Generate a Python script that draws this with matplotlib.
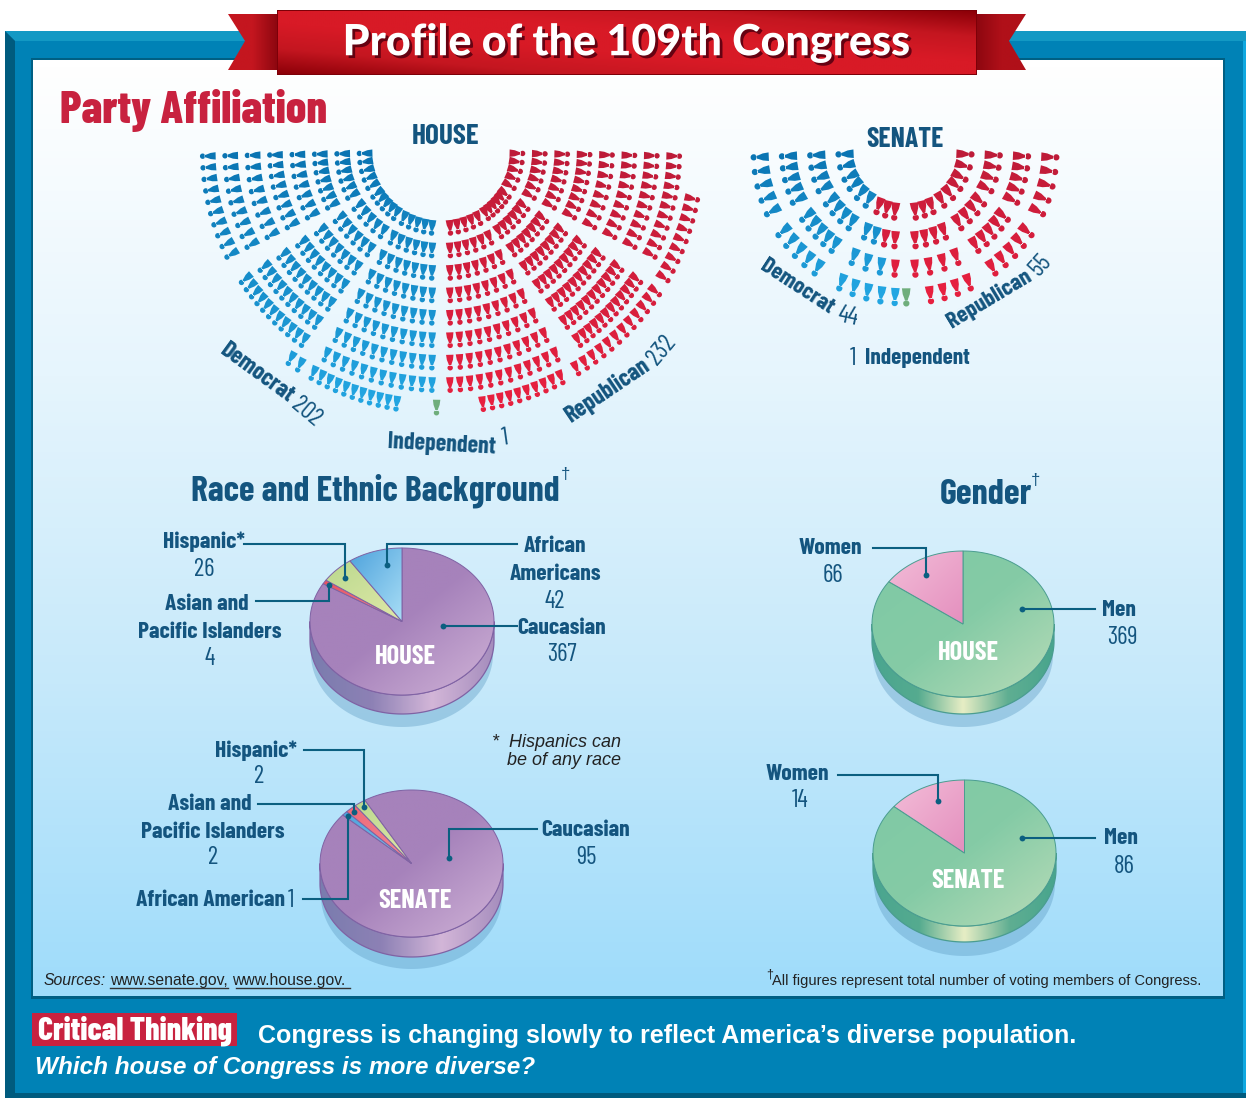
import numpy as np
import matplotlib
matplotlib.use("Agg")
import matplotlib.pyplot as plt
import matplotlib.patheffects as pe
from matplotlib.collections import PolyCollection
from matplotlib.colors import LinearSegmentedColormap, to_rgb
from matplotlib.patches import Polygon, Rectangle

W, H = 1246, 1098

# seats per row, inner row first, one list for each block of the chamber
house_dem_lower = [5, 6, 7, 8, 9, 10, 11, 12]
house_dem_mid = [5, 5, 6, 7, 8, 9, 10, 11]
house_dem_upper = [5, 6, 7, 7, 8, 8, 9, 10]
house_dem_back = [6, 5, 2]
house_rep_lower = [5, 6, 7, 8, 9, 10, 11, 12]
house_rep_mid = [6, 6, 7, 8, 9, 10, 11, 12]
house_rep_upper = [5, 6, 7, 8, 8, 9, 10, 11]
house_rep_back = [10, 12, 9]
house_ind = 1

senate_upper = [3, 4, 5, 5]
senate_mid = [3, 4, 5, 5]
senate_lower_left_dem = [0, 2, 3, 5]
senate_lower_left_rep = [3, 2, 1, 0]
senate_lower_right_rep = [3, 4, 4, 4]
senate_ind = 1
senate_dem = 44
senate_rep = 55

# Caucasian, Asian, Hispanic, African American
house_race = [367, 4, 26, 42]
senate_race = [95, 2, 2, 1]
# men, women
house_gender = [369, 66]
senate_gender = [86, 14]

NAVY = "#14557f"
LINE = "#0b5f80"
COND = ["Barlow Condensed", "Roboto"]
SANS = ["Liberation Sans", "DejaVu Sans"]

fig = plt.figure(figsize=(W / 100, H / 100), dpi=100, facecolor="white")
ax = fig.add_axes([0, 0, 1, 1])
ax.axis("off")


def grad(extent, colors, mode, clip=None, z=2):
    x0, x1, y0, y1 = extent
    t = np.linspace(0, 1, 128)
    if mode == "h":
        arr = t[None, :]
    elif mode == "v":
        arr = t[:, None]
    elif mode == "a":
        arr = (t[None, :] + t[::-1, None]) / 2
    else:
        arr = (t[None, :] + t[:, None]) / 2
    cmap = LinearSegmentedColormap.from_list("g", colors)
    im = ax.imshow(arr, cmap=cmap, vmin=0, vmax=1, extent=(x0, x1, y1, y0),
                   aspect="auto", interpolation="bilinear", zorder=z)
    if clip is not None:
        im.set_clip_path(Polygon(clip, closed=True, transform=ax.transData))
    return im


def rect(x0, y0, x1, y1, color, z=1):
    ax.add_patch(Rectangle((x0, y0), x1 - x0, y1 - y0, fc=color, ec="none", zorder=z))


def poly(pts, color, z=1):
    ax.add_patch(Polygon(pts, closed=True, fc=color, ec="none", zorder=z))


def label(x, y, s, size=17, weight=700, color=NAVY, ha="center", rot=0, family=COND, style="normal"):
    return ax.text(x, y + 1.5, s, fontsize=size, fontweight=weight, color=color, ha=ha, va="center",
                   rotation=rot, family=family, style=style, zorder=20, rotation_mode="anchor")


def num(x, y, val, size=18, ha="center", rot=0):
    return label(x, y, str(val), size=size, weight=400, ha=ha, rot=rot)


def note(x, y, s, size=11.3, style="normal"):
    return label(x, y, s, size=size, weight=400, ha="left", family=SANS, style=style, color="#222222")


def leader(*pts):
    xs, ys = zip(*pts)
    ax.plot(xs, ys, color=LINE, lw=1.5, solid_joinstyle="miter", zorder=15)
    ax.plot(xs[-1], ys[-1], "o", color=LINE, ms=4.2, mec="none", zorder=15)


def seat_shape(x, y, ang, scale):
    # ang counted from straight down, body wide at the inner end, head outward
    u = np.array([np.sin(ang), np.cos(ang)])
    v = np.array([np.cos(ang), -np.sin(ang)])
    body = [(-7.8, -3.9), (-7.8, 3.9), (-2.4, 3.2), (1.6, 1.7), (3.4, 1.2)]
    t = np.linspace(-2.3, 2.3, 10)
    head = [(5.9 + 2.9 * np.cos(a), 2.9 * np.sin(a)) for a in t]
    back = [(3.4, -1.2), (1.6, -1.7), (-2.4, -3.2)]
    pts = body + head + back
    return [(x + scale * (a * u[0] + b * v[0]), y + scale * (a * u[1] + b * v[1])) for a, b in pts]


def party_color(kind, y, y0, y1):
    stops = {"D": ("#0a74b2", "#22a6e2"), "R": ("#bd1b38", "#e8203f"), "I": ("#5fa56e", "#6fae7c")}[kind]
    t = np.clip((y - y0) / (y1 - y0), 0, 1)
    a, b = np.array(to_rgb(stops[0])), np.array(to_rgb(stops[1]))
    return a + (b - a) * t


def draw_seats(seats, cx, cy, scale):
    verts, cols = [], []
    ys = [cy + r * np.cos(np.radians(a)) for _, r, a, _ in seats]
    y0, y1 = min(ys), max(ys)
    for side, r, a, kind in seats:
        ang = np.radians(a) * side
        x = cx + r * np.sin(ang)
        y = cy + r * np.cos(ang)
        # figures lean a bit less than the radius they sit on
        tilt = ang - side * np.radians(8) * np.sin(2 * np.radians(a))
        verts.append(seat_shape(x, y, tilt, scale))
        cols.append(party_color(kind, y, y0, y1))
    ax.add_collection(PolyCollection(verts, facecolors=cols, edgecolors="none", zorder=6))


def pie3d(cx, cy, rx, ry, depth, values, start, tops, side, shadow_dy, edge):
    t = np.linspace(0, np.pi, 120)
    # shadow, then the rim, then the slices on top
    a = np.linspace(0, 2 * np.pi, 160)
    ax.add_patch(Polygon(np.c_[cx + rx * 0.99 * np.cos(a), cy + shadow_dy + ry * np.sin(a)],
                         fc="#5f9cc4", alpha=0.4, ec="none", zorder=3))
    rim = np.r_[np.c_[cx + rx * np.cos(t), cy + ry * np.sin(t)],
                np.c_[cx + rx * np.cos(t[::-1]), cy + depth + ry * np.sin(t[::-1])]]
    grad((cx - rx, cx + rx, cy, cy + ry + depth), side[::-1], "h", rim, z=4)
    ax.add_patch(Polygon(rim, closed=True, fc="none", ec=edge, lw=0.9, zorder=4))
    total = sum(values)
    pos = start
    for val, cols in zip(values, tops):
        sweep = 360 * val / total
        th = np.radians(np.linspace(pos, pos + sweep, max(int(sweep), 2) + 1))
        pts = np.r_[[[cx, cy]], np.c_[cx + rx * np.sin(th), cy - ry * np.cos(th)]]
        grad((pts[:, 0].min(), pts[:, 0].max(), pts[:, 1].min(), pts[:, 1].max()), cols, "d", pts, z=5)
        ax.add_patch(Polygon(pts, closed=True, fc="none", ec=edge, lw=0.7, zorder=5))
        pos += sweep


# frame and panel
rect(5, 31, W, H, "#0082b6", 1)
poly([(5, 31), (W, 31), (W, 41), (15, 41)], "#1399c4", 1)
poly([(5, 31), (15, 41), (15, H - 5), (5, H)], "#005b7e", 1)
rect(5, H - 5, W, H, "#005b7e", 1)
rect(W - 3, 41, W, H - 5, "#10a8e0", 1)
rect(31, 58, 1225, 999, "#005f83", 1)
grad((33, 1223, 60, 996), ["#ffffff", "#e6f5fd", "#c6e9fa", "#9fdcfa"], "v", z=1.5)

# title ribbon
tail_l = [(228, 14), (277, 14), (277, 70), (228, 70), (245, 41)]
tail_r = [(1026, 14), (977, 14), (977, 70), (1026, 70), (1009, 41)]
grad((228, 277, 14, 70), ["#c4161f", "#c4161f", "#8e0710"], "h", tail_l, z=3)
grad((977, 1026, 14, 70), ["#8e0710", "#b01019", "#b01019"], "h", tail_r, z=3)
rect(277, 10, 977, 75, "#7d0008", 3)
grad((278, 976, 11, 74), ["#8c0008", "#c41620", "#d81a26", "#d81a26", "#c41620", "#8c0008"], "a", z=3.1)
label(626, 41, "Profile of the 109th Congress", size=31, weight=900, color="white",
      family=["Lato", "Open Sans"]).set_path_effects(
    [pe.withSimplePatchShadow(offset=(2, -2), shadow_rgbFace="#5a0010", alpha=0.9)])

# party affiliation, seats from the block counts
label(60, 109, "Party Affiliation", size=32.7, weight=800, color="#c8223f", ha="left")
label(446, 135, "HOUSE", size=21)
label(905, 138, "SENATE", size=20)

HOUSE_R0, HOUSE_DR = 76, 22.4
house_seats = []
for side, kind, lower, mid, upper, back in [
    (-1, "D", house_dem_lower, house_dem_mid, house_dem_upper, house_dem_back),
    (1, "R", house_rep_lower, house_rep_mid, house_rep_upper, house_rep_back),
]:
    for i in range(8):
        r = HOUSE_R0 + i * HOUSE_DR
        lo = np.degrees(np.arcsin(9 / r))
        for a in np.linspace(lo, 29.5, lower[i]):
            house_seats.append((side, r, a, kind))
        for a in np.linspace(36, 57, mid[i]):
            house_seats.append((side, r, a, kind))
        for a in np.linspace(64, 89, upper[i]):
            house_seats.append((side, r, a, kind))
    r = HOUSE_R0 + 8 * HOUSE_DR
    bounds = [(10, 20), (22, 30), (33.5, 36)] if kind == "D" else [(9.4, 28), (32, 57), (60.6, 79.5)]
    for n, (a0, a1) in zip(back, bounds):
        for a in np.linspace(a0, a1, n):
            house_seats.append((side, r, a, kind))
for a in np.linspace(1, 1, house_ind):
    house_seats.append((-1, HOUSE_R0 + 8 * HOUSE_DR, a, "I"))
draw_seats(house_seats, 441, 152, 0.95)

SEN_R0, SEN_DR = 60, 28.3
senate_seats = []
for side, kind in [(-1, "D"), (1, "R")]:
    for i in range(4):
        r = SEN_R0 + i * SEN_DR
        for a in np.linspace(37, 57, senate_mid[i]):
            senate_seats.append((side, r, a, kind))
        for a in np.linspace(66, 88, senate_upper[i]):
            senate_seats.append((side, r, a, kind))
for i in range(4):
    r = SEN_R0 + i * SEN_DR
    lo = np.degrees(np.arcsin(10 / r))
    n = senate_lower_left_dem[i] + senate_lower_left_rep[i]
    kinds = ["D"] * senate_lower_left_dem[i] + ["R"] * senate_lower_left_rep[i]
    for a, k in zip(np.linspace(26, lo, n), kinds):
        senate_seats.append((-1, r, a, k))
    for a in np.linspace(10 if i == 3 else lo, 26, senate_lower_right_rep[i]):
        senate_seats.append((1, r, a, "R"))
for a in np.linspace(0.5, 0.5, senate_ind):
    senate_seats.append((1, SEN_R0 + 3 * SEN_DR, a, "I"))
draw_seats(senate_seats, 905, 152, 1.1)

dem_total = sum(house_dem_lower + house_dem_mid + house_dem_upper + house_dem_back)
rep_total = sum(house_rep_lower + house_rep_mid + house_rep_upper + house_rep_back)
label(222, 347, "Democrat", size=17.5, ha="left", rot=-36)
num(294, 401, dem_total, size=18, ha="left", rot=-40)
label(567, 416, "Republican", size=17.5, ha="left", rot=34)
num(652, 360, rep_total, size=18, ha="left", rot=50)
label(388, 441, "Independent", size=17.3, ha="left", rot=-3)
num(505, 437, house_ind, size=18, rot=8)
label(762, 262, "Democrat", size=17, ha="left", rot=-33)
num(838, 313, senate_dem, size=18, ha="left", rot=-12)
label(949, 322, "Republican", size=17, ha="left", rot=31)
num(1034, 271, senate_rep, size=18, ha="left", rot=48)
num(853, 357, senate_ind, size=18)
label(865, 357, "Independent", size=16.8, ha="left")

# race pies
purple = ["#a682bb", "#a682bb", "#d0b3d7"]
race_cols = [purple, ["#e9505f", "#f08a90"], ["#bad88e", "#e0e9a8"], ["#4da2dc", "#a9def6"]]
purple_rim = ["#a58dbd", "#d3b6d8", "#8d81b5", "#7a7cae"]
pie3d(402, 621.5, 92, 73.5, 19, house_race, 0, race_cols, purple_rim, 32, "#7f62a4")
label(405, 655, "HOUSE", size=19, color="white")

# senate order runs clockwise from the Hispanic edge: Caucasian, African, Asian, Hispanic
pie3d(411.5, 863.5, 91.5, 73.5, 20,
      [senate_race[0], senate_race[3], senate_race[1], senate_race[2]], -30.7,
      [purple, ["#4da2dc", "#7fc4ea"], ["#ee6878", "#f28a94"], ["#bad88e", "#e0e9a8"]],
      purple_rim, 32, "#7f62a4")
label(415, 899, "SENATE", size=19, color="white")

label(204, 540, "Hispanic*")
num(204, 568, house_race[2])
label(207, 602, "Asian and")
label(210, 630, "Pacific Islanders")
num(210, 657, house_race[1])
label(555, 544, "African")
label(555, 572, "Americans")
num(555, 600, house_race[3])
label(562, 626, "Caucasian")
num(562, 653, house_race[0])
leader((244, 544), (345, 544), (345, 578))
leader((256, 601), (329, 601), (329, 585))
leader((517, 544), (387, 544), (387, 565))
leader((517, 626), (443, 626))

label(256, 749, "Hispanic*")
num(259, 775, senate_race[2])
label(210, 803, "Asian and")
label(213, 830, "Pacific Islanders")
num(213, 856, senate_race[1])
label(136, 899, "African American", ha="left")
num(291, 899, senate_race[3])
label(586, 829, "Caucasian")
num(586, 856, senate_race[0])
leader((304, 750), (364, 750), (364, 807))
leader((258, 804), (354, 804), (354, 812))
leader((303, 899), (348, 899), (348, 816))
leader((537, 829), (449, 829), (449, 858))

# gender pies
men = ["#7fc9a5", "#85cba6", "#b8dcb8"]
women = ["#f3bdd8", "#e48fbe"]
green_rim = ["#48a58d", "#5fae92", "#e8eec5", "#55ab8f", "#4aa58f"]
pie3d(963, 624, 91, 73, 17, house_gender, 0, [men, women], green_rim, 30, "#4a9d90")
pie3d(964.5, 853, 91.5, 73, 16, senate_gender, 0, [men, women], green_rim, 30, "#4a9d90")
label(968, 651, "HOUSE", size=19, color="white")
label(968, 880, "SENATE", size=19, color="white")
label(830, 546, "Women")
num(833, 574, house_gender[1])
label(1119, 608, "Men")
num(1122, 636, house_gender[0])
label(797, 772, "Women")
num(800, 799, senate_gender[1])
label(1121, 837, "Men")
num(1124, 865, senate_gender[0])
leader((873, 548), (926, 548), (926, 575))
leader((1095, 609), (1022, 609))
leader((838, 775), (938, 775), (938, 801))
leader((1095, 838), (1022, 838))

label(191, 489, "Race and Ethnic Background", size=25.6, ha="left")
label(566, 473, "\u2020", size=12, weight=400, family=SANS)
label(940, 493, "Gender", size=26, ha="left")
label(1036, 479, "\u2020", size=12, weight=400, family=SANS)

# notes
note(492, 741, "*  Hispanics can", size=13, style="italic")
note(507, 759, "be of any race", size=13, style="italic")
note(44, 979, "Sources:", style="italic")
note(110, 979, "www.senate.gov,")
note(232, 979, "www.house.gov.")
ax.plot([110, 228], [988, 988], color="#333333", lw=1, zorder=15)
ax.plot([236, 350], [988, 988], color="#333333", lw=1, zorder=15)
note(766, 973, "\u2020", size=9)
note(772, 979, "All figures represent total number of voting members of Congress.", size=10.55)

# critical thinking bar
rect(32, 1013, 237, 1046, "#c8223f", 2)
label(38, 1029, "Critical Thinking", size=23, weight=800, color="white", ha="left")
label(258, 1034, "Congress is changing slowly to reflect America\u2019s diverse population.", size=18,
      color="white", ha="left", family=SANS)
label(35, 1066, "Which house of Congress is more diverse?", size=17.6, color="white", ha="left",
      family=SANS, style="italic")

ax.set_xlim(0, W)
ax.set_ylim(H, 0)
fig.savefig("out.png", dpi=100, facecolor="white")
